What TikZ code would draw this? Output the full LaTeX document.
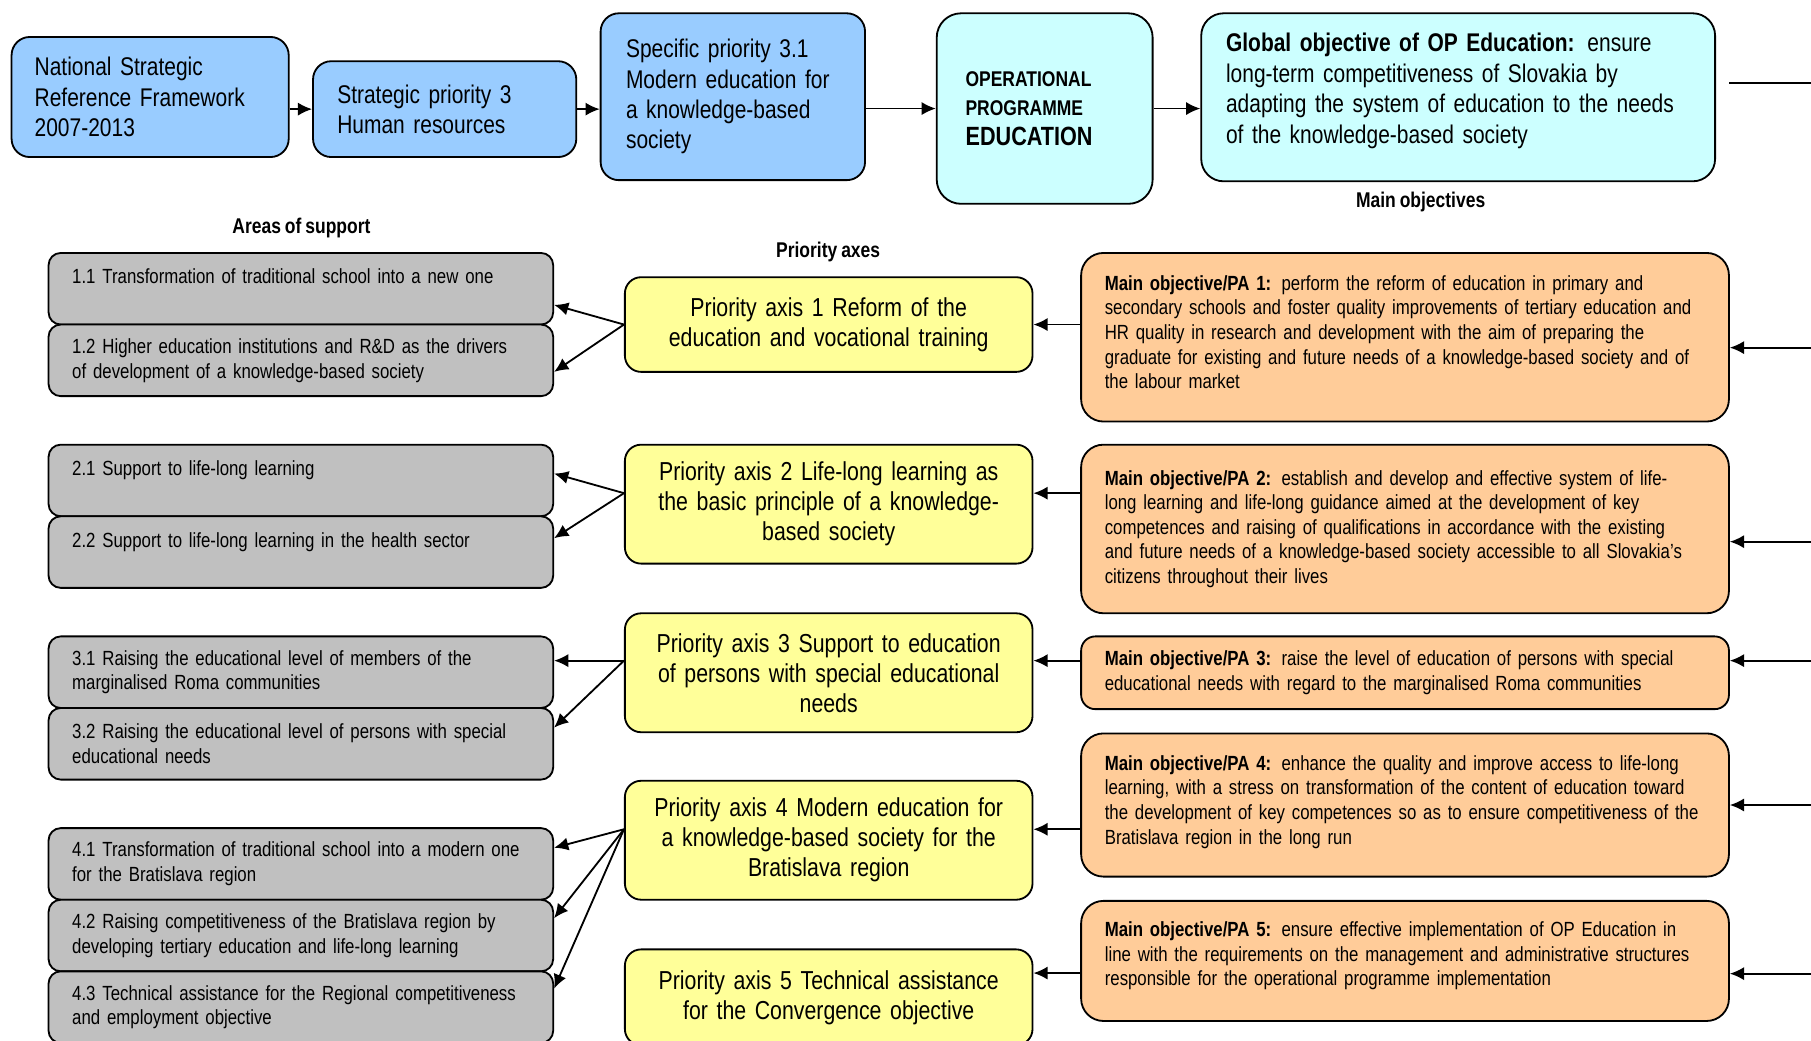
\documentclass[tikz,border=0pt]{standalone}
\usepackage{fontspec}
\setmainfont[FakeStretch=0.82,WordSpace=0.82]{Liberation Sans}
\usepackage{tikz}
\usetikzlibrary{arrows.meta}
\usetikzlibrary{positioning,calc}
\definecolor{nsrfblue}{HTML}{99CCFF}
\definecolor{opcyan}{HTML}{CCFFFF}
\definecolor{areagray}{HTML}{C0C0C0}
\definecolor{axisyellow}{HTML}{FFFF99}
\definecolor{goalorange}{HTML}{FFCC99}

\begin{document}
\begin{tikzpicture}[x=0.02cm,y=-0.02cm,
         box/.style = {draw,line width=0.9pt,inner sep=0pt},
         topbox/.style = {box,rounded corners=9pt,align=left,
            font=\fontsize{12.6}{15}\selectfont},
         area/.style = {box,fill=areagray,rounded corners=6pt,
            minimum width=8.74cm,minimum height=1.24cm,text width=7.92cm,
            align=left,font=\fontsize{10.1}{12.2}\selectfont},
         axis/.style = {box,fill=axisyellow,rounded corners=8pt,
            minimum width=7.06cm,text width=6.6cm,align=center,
            font=\fontsize{12.8}{14.8}\selectfont},
         goal/.style = {box,fill=goalorange,rounded corners=11pt,
            minimum width=11.22cm,text width=10.4cm,align=left,
            font=\fontsize{10.1}{12.1}\selectfont},
         head/.style = {font=\fontsize{10.5}{12}\selectfont\bfseries},
         link/.style = {line width=0.9pt,-{Latex[length=7pt,width=6.5pt]}}
]
      \useasboundingbox (0,0) rectangle (1568,901);

      % top row
      \node[topbox,fill=nsrfblue,minimum width=4.8cm,minimum height=2.08cm,
         text width=4cm] (nsrf) at (130,84)
         {National Strategic\\Reference Framework\\2007-2013};
      \node[topbox,fill=nsrfblue,minimum width=4.56cm,minimum height=1.66cm,
         text width=3.72cm] (sp3) at (385,94.5)
         {Strategic priority 3\\Human resources};
      \node[topbox,fill=nsrfblue,minimum width=4.58cm,minimum height=2.89cm,
         text width=3.7cm] (sp31) at (634.5,83.75)
         {Specific priority 3.1\\Modern education for\\a knowledge-based\\society};
      \node[topbox,fill=opcyan,rounded corners=12pt,minimum width=3.74cm,
         minimum height=3.3cm,text width=2.74cm,
         font=\fontsize{10.5}{14.7}\selectfont\bfseries] (op) at (904.5,94)
         {OPERATIONAL\\PROGRAMME\\{\fontsize{13}{14.7}\selectfont EDUCATION}};
      \node[topbox,fill=opcyan,rounded corners=11pt,minimum width=8.9cm,
         minimum height=2.91cm,text width=8.04cm] (glob) at (1262.5,84.25)
         {\textbf{Global objective of OP Education:} ensure\\long-term
         competitiveness of Slovakia by\\adapting the system of education to
         the needs\\of the knowledge-based society\\[-6pt]\mbox{}};

      \draw[link] (nsrf.east |- sp3.west) -- (sp3.west);
      \draw[link] (sp3.east) -- (sp3.east -| sp31.west);
      \draw[link] (sp31.east |- op.west) -- (op.west);
      \draw[link] (op.east) -- (op.east -| glob.west);
      \coordinate (g1) at (1497,72);
      \coordinate (g2) at (1568,72);
      \draw[line width=0.9pt] (g1) -- (g2);

      % column titles
      \node[head] (hareas) at (261,197) {Areas of support};
      \node[head] (haxes) at (717,218) {Priority axes};
      \node[head] (hgoals) at (1230,175) {Main objectives};

      % areas of support
      \node[area] (a11) at (260.5,250)
         {1.1 Transformation of traditional school into a new one\\\mbox{}};
      \node[area] (a12) at (260.5,312)
         {1.2 Higher education institutions and R\&D as the drivers\\of
         development of a knowledge-based society};
      \node[area] (a21) at (260.5,416)
         {2.1 Support to life-long learning\\\mbox{}};
      \node[area] (a22) at (260.5,478)
         {2.2 Support to life-long learning in the health sector\\\mbox{}};
      \node[area] (a31) at (260.5,582)
         {3.1 Raising the educational level of members of the\\marginalised
         Roma communities};
      \node[area] (a32) at (260.5,644)
         {3.2 Raising the educational level of persons with special\\educational
         needs};
      \node[area] (a41) at (260.5,748)
         {4.1 Transformation of traditional school into a modern one\\for the
         Bratislava region};
      \node[area] (a42) at (260.5,810)
         {4.2 Raising competitiveness of the Bratislava region by\\developing
         tertiary education and life-long learning};
      \node[area] (a43) at (260.5,872)
         {4.3 Technical assistance for the Regional competitiveness\\and
         employment objective};

      % priority axes
      \node[axis,minimum height=1.64cm] (pa1) at (717.5,281)
         {Priority axis 1 Reform of the\\education and vocational training};
      \node[axis,minimum height=2.06cm] (pa2) at (717.5,436.5)
         {Priority axis 2 Life-long learning as\\the basic principle of a
         knowledge-\\based society};
      \node[axis,minimum height=2.06cm] (pa3) at (717.5,582.5)
         {Priority axis 3 Support to education\\of persons with special
         educational\\needs};
      \node[axis,minimum height=2.06cm] (pa4) at (717.5,727.5)
         {Priority axis 4 Modern education for\\a knowledge-based society for
         the\\Bratislava region};
      \node[axis,minimum height=1.66cm] (pa5) at (717.5,863.5)
         {Priority axis 5 Technical assistance\\for the Convergence objective};

      % main objectives
      \node[goal,minimum height=2.92cm] (mo1) at (1216.5,292)
         {\textbf{Main objective/PA 1:} perform the reform of education in
         primary and\\secondary schools and foster quality improvements of
         tertiary education and\\HR quality in research and development with
         the aim of preparing the\\graduate for existing and future needs of a
         knowledge-based society and of\\the labour market\\[-7pt]\mbox{}};
      \node[goal,minimum height=2.92cm] (mo2) at (1216.5,458)
         {\textbf{Main objective/PA 2:} establish and develop and effective
         system of life-\\long learning and life-long guidance aimed at the
         development of key\\competences and raising of qualifications in
         accordance with the existing\\and future needs of a knowledge-based
         society accessible to all Slovakia’s\\citizens throughout their lives};
      \node[goal,rounded corners=7pt,minimum height=1.26cm] (mo3) at (1216.5,582.5)
         {\textbf{Main objective/PA 3:} raise the level of education of persons
         with special\\educational needs with regard to the marginalised Roma
         communities};
      \node[goal,minimum height=2.48cm] (mo4) at (1216.5,697)
         {\textbf{Main objective/PA 4:} enhance the quality and improve access
         to life-long\\learning, with a stress on transformation of the content
         of education toward\\the development of key competences so as to
         ensure competitiveness of the\\Bratislava region in the long
         run\\[-7pt]\mbox{}};
      \node[goal,minimum height=2.08cm] (mo5) at (1216.5,832)
         {\textbf{Main objective/PA 5:} ensure effective implementation of OP
         Education in\\line with the requirements on the management and
         administrative structures\\responsible for the operational programme
         implementation\\[-5pt]\mbox{}};

      % attachment points on the axes
      \coordinate (s1) at (pa1.west);
      \coordinate (t1) at (pa1.east);
      \coordinate (s2) at ($(pa2.west)+(0,-9.5)$);
      \coordinate (t2) at ($(pa2.east)+(0,-9.5)$);
      \coordinate (s3) at ($(pa3.west)+(0,-10.5)$);
      \coordinate (t3) at ($(pa3.east)+(0,-10.5)$);
      \coordinate (s4) at ($(pa4.west)+(0,-9.5)$);
      \coordinate (t4) at ($(pa4.east)+(0,-9.5)$);
      \coordinate (t5) at ($(pa5.east)+(0,-21)$);

      \draw[link] (s1) -- ($(a11.east)+(0,14)$);
      \draw[link] (s1) -- ($(a12.east)+(0,10)$);
      \draw[link] (s2) -- ($(a21.east)+(0,-6)$);
      \draw[link] (s2) -- ($(a22.east)+(0,-12)$);
      \draw[link] (s3) -- ($(a31.east)+(0,-10)$);
      \draw[link] (s3) -- ($(a32.east)+(0,-14)$);
      \draw[link] (s4) -- ($(a41.east)+(0,-14)$);
      \draw[link] (s4) -- ($(a42.east)+(0,-15)$);
      \draw[link] (s4) -- ($(a43.east)+(0,-16)$);

      \draw[link] (t1 -| mo1.west) -- (t1);
      \draw[link] (t2 -| mo2.west) -- (t2);
      \draw[link] (t3 -| mo3.west) -- (t3);
      \draw[link] (t4 -| mo4.west) -- (t4);
      \draw[link] (t5 -| mo5.west) -- (t5);

      % arrows coming in from the right
      \coordinate (r1) at (1568,301);
      \coordinate (r2) at (1568,469);
      \coordinate (r3) at (1568,572);
      \coordinate (r4) at (1568,697);
      \coordinate (r5) at (1568,843);
      \draw[link] (r1) -- (r1 -| mo1.east);
      \draw[link] (r2) -- (r2 -| mo2.east);
      \draw[link] (r3) -- (r3 -| mo3.east);
      \draw[link] (r4) -- (r4 -| mo4.east);
      \draw[link] (r5) -- (r5 -| mo5.east);
\end{tikzpicture}
\end{document}
